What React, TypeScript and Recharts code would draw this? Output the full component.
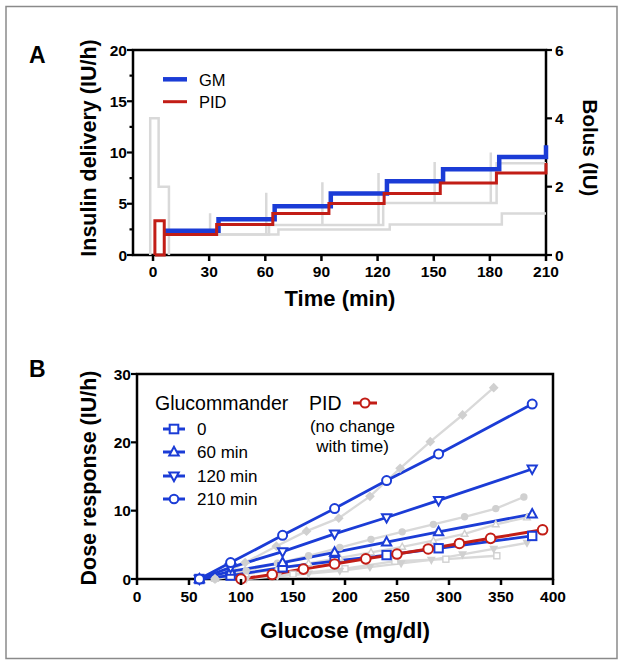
import React from "react";
import { LineChart, Line, XAxis, YAxis, ReferenceArea } from "recharts";

const FONT = "'Liberation Sans', Arial, Helvetica, sans-serif";
const BLUE = "#1b3cd6";
const RED = "#c21d16";
const GRAY = "#d9d9d9";
const GRAY_MARK = "#d0d0d0";

// ---- panel A: insulin delivery over time (IU/h, left axis) ----
const GM_T = [6, 35, 65, 95, 125, 155, 185, 210, 210];
const GM_V = [2.37, 3.5, 4.76, 6.0, 7.2, 8.36, 9.56, 9.56, 10.7];

const PID_T = [1, 1, 6, 1, 6, 34, 64, 94, 123.5, 153.5, 183.5, 210, 210];
const PID_V = [0, 3.33, 0, 0, 2.0, 2.98, 4.05, 5.02, 6.0, 7.03, 8.0, 8.0, 8.98];

const REF1_T = [8.5, 62, 123, 183.6, 210];
const REF1_V = [2.0, 2.93, 5.08, 8.96, 8.96];
const REF2_T = [8.5, 67, 126.5, 186.4, 210];
const REF2_V = [2.0, 2.5, 2.98, 4.05, 4.05];

// bolus (IU, right axis)
const BOLUS_START_T = [-1.5, -1.5, 3, 8.5];
const BOLUS_START_V = [0, 4.0, 2.0, 0];
const SPIKE_T = [30.5, 60.5, 90.5, 120.5, 150.5, 180.5];
const SPIKE_BASE = [0.6, 0.6, 0.88, 0.88, 1.52, 1.52];
const SPIKE_TOP = [1.22, 1.82, 2.13, 2.4, 2.72, 3.0];

const TIME_TICKS = [0, 30, 60, 90, 120, 150, 180, 210];
const INSULIN_TICKS = [0, 2.5, 5, 7.5, 10, 12.5, 15, 17.5, 20];
const BOLUS_TICKS = [0, 2, 4, 6];

// ---- panel B: dose response vs glucose ----
const GLU_X = [60, 90, 140, 190, 240, 290, 380];
const GC_0 = [0, 0.5, 1.7, 2.6, 3.5, 4.5, 6.3];
const GC_60 = [0, 1.1, 2.4, 3.9, 5.4, 6.9, 9.5];
const GC_120 = [0, 1.7, 4.0, 6.6, 9.0, 11.5, 16.1];
const GC_210 = [0, 2.4, 6.4, 10.3, 14.4, 18.3, 25.6];

const PID_X = [100, 130, 160, 190, 220, 250, 280, 310, 340, 390];
const PID_DOSE = [0, 0.65, 1.45, 2.2, 2.95, 3.65, 4.4, 5.2, 5.95, 7.2];

const GR_DIA_X = [75, 104, 134, 163, 194, 224, 253, 282, 313, 343];
const GR_DIA_V = [0, 2.4, 4.8, 7.0, 8.9, 12.1, 16.2, 20.1, 24.0, 28.0];
const GR_CIR_X = [75, 105, 135, 165, 195, 225, 255, 285, 315, 345, 372];
const GR_CIR_V = [0, 1.2, 2.3, 3.4, 4.6, 5.8, 6.9, 8.0, 9.1, 10.3, 12.0];
const GR_TUP_X = [75, 105, 135, 165, 195, 225, 255, 285, 315, 345, 375];
const GR_TUP_V = [0, 0.7, 1.5, 2.3, 3.1, 3.9, 4.7, 5.6, 6.6, 8.0, 9.0];
const GR_TDN_X = [105, 135, 165, 195, 224, 254, 283, 313, 343, 375];
const GR_TDN_V = [0, 0.4, 0.8, 1.2, 1.75, 2.3, 2.8, 3.6, 4.4, 5.3];
const GR_SQ_X = [100, 150, 200, 248, 297, 346];
const GR_SQ_V = [0, 0.7, 1.5, 2.6, 2.9, 3.4];

const GLU_TICKS = [0, 50, 100, 150, 200, 250, 300, 350, 400];
const DOSE_TICKS = [0, 10, 20, 30];

const pts = (xs: number[], vs: number[]) => xs.map((t, i) => ({ t, v: vs[i] }));

const spikes = SPIKE_T.flatMap((t, i) => [
  { t, v: SPIKE_BASE[i] },
  { t, v: SPIKE_TOP[i] },
  { t, v: null },
]);

const tickText = { fontFamily: FONT, fontSize: 15.5, fontWeight: 700, fill: "#000" };

function BottomTick({ x, y, payload, offset }: any) {
  return (
    <g>
      <line x1={x} x2={x} y1={y} y2={y + 6} stroke="#000" strokeWidth={2.5} />
      <text x={x} y={y + offset} textAnchor="middle" {...tickText}>
        {payload.value}
      </text>
    </g>
  );
}

function LeftTick({ x, y, payload, major }: any) {
  const isMajor = major(payload.value);
  return (
    <g>
      <line x1={x - (isMajor ? 6 : 3.5)} x2={x} y1={y} y2={y} stroke="#000" strokeWidth={2.2} />
      {isMajor && (
        <text x={x - 6} y={y + 5.5} textAnchor="end" {...tickText}>
          {payload.value}
        </text>
      )}
    </g>
  );
}

function RightTick({ x, y, payload }: any) {
  return (
    <g>
      <line x1={x} x2={x + 6} y1={y} y2={y} stroke="#000" strokeWidth={2.2} />
      <text x={x + 9} y={y + 5.5} textAnchor="start" {...tickText}>
        {payload.value}
      </text>
    </g>
  );
}

type Shape = "square" | "tup" | "tdown" | "circle" | "diamond";

function Marker({ cx, cy, shape, stroke, fill, s = 4.5, sw = 2 }: any) {
  if (cx == null || cy == null) return <g />;
  switch (shape as Shape) {
    case "square":
      return <rect x={cx - s} y={cy - s} width={2 * s} height={2 * s} fill={fill} stroke={stroke} strokeWidth={sw} />;
    case "tup":
      return (
        <polygon
          points={`${cx},${cy - s * 1.2} ${cx - s * 1.1},${cy + s * 0.8} ${cx + s * 1.1},${cy + s * 0.8}`}
          fill={fill}
          stroke={stroke}
          strokeWidth={sw}
        />
      );
    case "tdown":
      return (
        <polygon
          points={`${cx},${cy + s * 1.2} ${cx - s * 1.1},${cy - s * 0.8} ${cx + s * 1.1},${cy - s * 0.8}`}
          fill={fill}
          stroke={stroke}
          strokeWidth={sw}
        />
      );
    case "diamond":
      return (
        <polygon
          points={`${cx},${cy - s * 1.3} ${cx + s * 1.3},${cy} ${cx},${cy + s * 1.3} ${cx - s * 1.3},${cy}`}
          fill={fill}
          stroke={stroke}
          strokeWidth={sw}
        />
      );
    default:
      return <circle cx={cx} cy={cy} r={s} fill={fill} stroke={stroke} strokeWidth={sw} />;
  }
}

const dotFor = (shape: Shape, stroke: string, fill: string, s = 4.5, sw = 2) => (p: any) => (
  <Marker key={`m-${p.index}`} cx={p.cx} cy={p.cy} shape={shape} stroke={stroke} fill={fill} s={s} sw={sw} />
);

function PanelA() {
  return (
    <LineChart width={625} height={330} margin={{ top: 50, right: 19, bottom: 45, left: 73 }}>
      <XAxis
        type="number"
        dataKey="t"
        domain={[-10.7, 210]}
        ticks={TIME_TICKS}
        axisLine={false}
        tickLine={false}
        tickSize={0}
        tickMargin={0}
        height={30}
        tick={<BottomTick offset={21.5} />}
      />
      <YAxis
        yAxisId="L"
        type="number"
        domain={[0, 20]}
        ticks={INSULIN_TICKS}
        axisLine={false}
        tickLine={false}
        tickSize={0}
        tickMargin={0}
        width={60}
        tick={<LeftTick major={(v: number) => v % 5 === 0} />}
      />
      <YAxis
        yAxisId="R"
        orientation="right"
        type="number"
        domain={[0, 6]}
        ticks={BOLUS_TICKS}
        axisLine={false}
        tickLine={false}
        tickSize={0}
        tickMargin={0}
        width={60}
        tick={<RightTick />}
      />
      <Line yAxisId="R" data={pts(BOLUS_START_T, BOLUS_START_V)} dataKey="v" type="stepAfter" stroke={GRAY} strokeWidth={2.5} dot={false} activeDot={false} isAnimationActive={false} />
      <Line yAxisId="R" data={spikes} dataKey="v" type="linear" stroke={GRAY} strokeWidth={2.5} dot={false} activeDot={false} isAnimationActive={false} />
      <Line yAxisId="L" data={pts(REF1_T, REF1_V)} dataKey="v" type="stepAfter" stroke={GRAY} strokeWidth={2.5} dot={false} activeDot={false} isAnimationActive={false} />
      <Line yAxisId="L" data={pts(REF2_T, REF2_V)} dataKey="v" type="stepAfter" stroke={GRAY} strokeWidth={2.5} dot={false} activeDot={false} isAnimationActive={false} />
      <Line yAxisId="L" data={pts(GM_T, GM_V)} dataKey="v" type="stepAfter" stroke={BLUE} strokeWidth={4.5} dot={false} activeDot={false} isAnimationActive={false} />
      <Line yAxisId="L" data={pts(PID_T, PID_V)} dataKey="v" type="stepAfter" stroke={RED} strokeWidth={3} dot={false} activeDot={false} isAnimationActive={false} />
      <ReferenceArea yAxisId="L" x1={-10.7} x2={210} y1={0} y2={20} fill="none" stroke="#000" strokeWidth={2.5} ifOverflow="visible" />
    </LineChart>
  );
}

function PanelB() {
  const gray = (xs: number[], vs: number[], shape: Shape, fill: string) => (
    <Line
      data={pts(xs, vs)}
      dataKey="v"
      type="linear"
      stroke={GRAY}
      strokeWidth={2.3}
      dot={dotFor(shape, GRAY_MARK, fill, 3, 1.4)}
      activeDot={false}
      isAnimationActive={false}
    />
  );
  const blue = (vs: number[], shape: Shape) => (
    <Line
      data={pts(GLU_X, vs)}
      dataKey="v"
      type="linear"
      stroke={BLUE}
      strokeWidth={2.8}
      dot={dotFor(shape, BLUE, "#fff", shape === "circle" ? 4.5 : 4.2, 2)}
      activeDot={false}
      isAnimationActive={false}
    />
  );
  return (
    <LineChart width={625} height={336} margin={{ top: 44, right: 72, bottom: 57, left: 77 }}>
      <XAxis
        type="number"
        dataKey="t"
        domain={[0, 400]}
        ticks={GLU_TICKS}
        axisLine={false}
        tickLine={false}
        tickSize={0}
        tickMargin={0}
        height={30}
        tick={<BottomTick offset={23} />}
      />
      <YAxis
        type="number"
        domain={[0, 30]}
        ticks={DOSE_TICKS}
        axisLine={false}
        tickLine={false}
        tickSize={0}
        tickMargin={0}
        width={60}
        tick={<LeftTick major={() => true} />}
      />
      {gray(GR_SQ_X, GR_SQ_V, "square", "#fff")}
      {gray(GR_TDN_X, GR_TDN_V, "tdown", GRAY_MARK)}
      {gray(GR_TUP_X, GR_TUP_V, "tup", "#fff")}
      {gray(GR_CIR_X, GR_CIR_V, "circle", GRAY_MARK)}
      {gray(GR_DIA_X, GR_DIA_V, "diamond", GRAY_MARK)}
      {blue(GC_0, "square")}
      {blue(GC_60, "tup")}
      {blue(GC_120, "tdown")}
      {blue(GC_210, "circle")}
      <Line
        data={pts(PID_X, PID_DOSE)}
        dataKey="v"
        type="linear"
        stroke={RED}
        strokeWidth={3}
        dot={dotFor("circle", RED, "#fff", 4.8, 2)}
        activeDot={false}
        isAnimationActive={false}
      />
      <ReferenceArea x1={0} x2={400} y1={0} y2={30} fill="none" stroke="#000" strokeWidth={2.5} ifOverflow="visible" />
    </LineChart>
  );
}

const GC_LEGEND = [
  { label: "0", shape: "square" as Shape, y: 429 },
  { label: "60 min", shape: "tup" as Shape, y: 452 },
  { label: "120 min", shape: "tdown" as Shape, y: 476 },
  { label: "210 min", shape: "circle" as Shape, y: 499 },
];

function Overlay() {
  const bold = { fontFamily: FONT, fontWeight: 700, fill: "#000" };
  const reg = { fontFamily: FONT, fill: "#000" };
  return (
    <svg width={625} height={666} style={{ position: "absolute", left: 0, top: 0, pointerEvents: "none" }}>
      <rect x={6} y={6.5} width={611} height={652} fill="none" stroke="#8a8a8a" strokeWidth={1.5} />
      {/* panel A */}
      <text x={29} y={63} fontSize={23} {...bold}>A</text>
      <text transform="translate(96,148) rotate(-90)" textAnchor="middle" fontSize={21.5} {...bold}>
        Insulin delivery (IU/h)
      </text>
      <text transform="translate(583,148) rotate(90)" textAnchor="middle" fontSize={20.5} {...bold}>
        Bolus (IU)
      </text>
      <text x={340} y={306} textAnchor="middle" fontSize={22} {...bold}>Time (min)</text>
      <line x1={163} x2={187} y1={79.3} y2={79.3} stroke={BLUE} strokeWidth={4.5} />
      <text x={199} y={85.7} fontSize={16.5} {...reg}>GM</text>
      <line x1={163} x2={187} y1={101.7} y2={101.7} stroke={RED} strokeWidth={3} />
      <text x={199} y={108.3} fontSize={16.5} {...reg}>PID</text>
      {/* panel B */}
      <text x={29} y={377} fontSize={23} {...bold}>B</text>
      <text transform="translate(96,478) rotate(-90)" textAnchor="middle" fontSize={21.5} {...bold}>
        Dose response (IU/h)
      </text>
      <text x={345} y={638} textAnchor="middle" fontSize={22.5} {...bold}>Glucose (mg/dl)</text>
      <text x={155} y={410} fontSize={19.5} {...reg}>Glucommander</text>
      {GC_LEGEND.map((g) => (
        <g key={g.label}>
          <line x1={163} x2={185} y1={g.y} y2={g.y} stroke={BLUE} strokeWidth={3} />
          <Marker cx={174} cy={g.y} shape={g.shape} stroke={BLUE} fill="#fff" s={4.3} sw={2} />
          <text x={197} y={g.y + 6} fontSize={17} {...reg}>{g.label}</text>
        </g>
      ))}
      <text x={309} y={410} fontSize={19.5} {...reg}>PID</text>
      <line x1={353} x2={377} y1={403} y2={403} stroke={RED} strokeWidth={3} />
      <Marker cx={365} cy={403} shape="circle" stroke={RED} fill="#fff" s={4.5} sw={2} />
      <text x={352.5} y={432} textAnchor="middle" fontSize={17} {...reg}>(no change</text>
      <text x={352.5} y={452} textAnchor="middle" fontSize={17} {...reg}>with time)</text>
    </svg>
  );
}

export default function App() {
  return (
    <div style={{ position: "absolute", left: 0, top: 0, width: 625, height: 666, background: "#fff" }}>
      <div style={{ position: "absolute", left: 0, top: 0 }}>
        <PanelA />
      </div>
      <div style={{ position: "absolute", left: 0, top: 330 }}>
        <PanelB />
      </div>
      <Overlay />
    </div>
  );
}
